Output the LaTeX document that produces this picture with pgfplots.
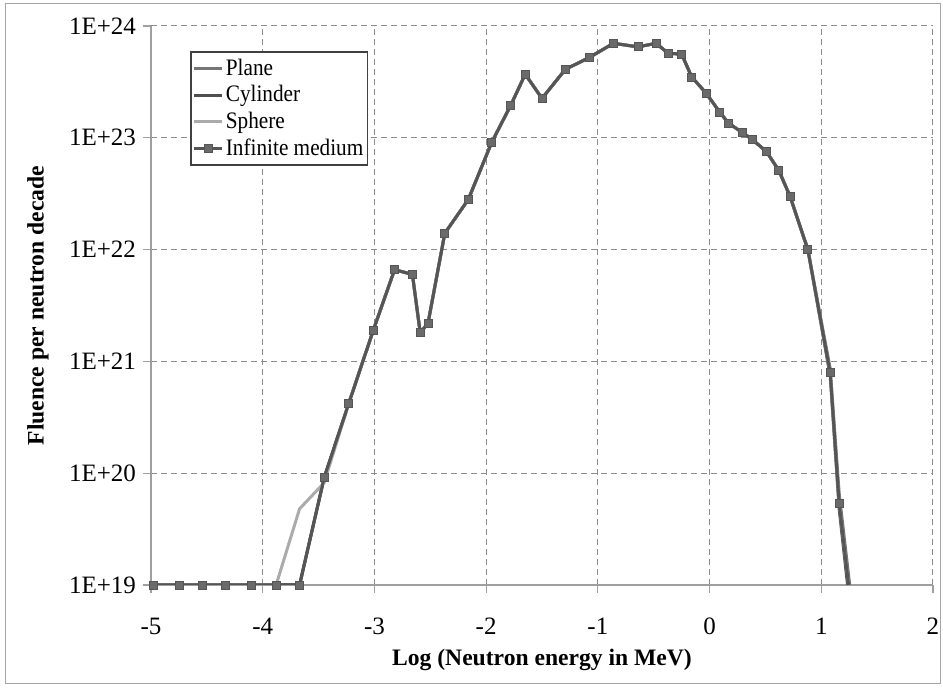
\documentclass[border=0pt]{standalone}
\usepackage{fontspec}
\setmainfont{Liberation Serif}
\newfontfamily\legendfont[FakeStretch=0.9]{Liberation Serif}
\usepackage{pgfplots}
\pgfplotsset{compat=1.18}

\definecolor{planec}{HTML}{767676}
\definecolor{cylc}{HTML}{4E4E4E}
\definecolor{spherec}{HTML}{ABABAB}
\definecolor{infc}{HTML}{555555}
\definecolor{markc}{HTML}{6A6A6A}
\definecolor{gridc}{HTML}{8C8C8C}

% Fluence per neutron decade against log10(E / MeV)
\pgfplotstableread{
x      y
-4.98  1e19
-4.75  1e19
-4.54  1e19
-4.33  1e19
-4.10  1e19
-3.88  1e19
-3.67  1e19
-3.45  9.1e19
-3.23  4.2e20
-3.01  1.9e21
-2.82  6.6e21
-2.66  6.0e21
-2.59  1.8e21
-2.52  2.2e21
-2.37  1.4e22
-2.16  2.8e22
-1.95  9.1e22
-1.78  1.95e23
-1.65  3.7e23
-1.50  2.25e23
-1.29  4.1e23
-1.08  5.2e23
-0.86  7.0e23
-0.64  6.5e23
-0.48  7.0e23
-0.37  5.7e23
-0.25  5.6e23
-0.16  3.5e23
-0.03  2.5e23
0.09   1.7e23
0.17   1.35e23
0.29   1.12e23
0.38   9.7e22
0.51   7.5e22
0.62   5.1e22
0.72   3.0e22
0.88   1.0e22
1.08   7.9e20
1.16   5.4e19
1.27   6e18
}\infmedium

\pgfplotstableread{
x      y
-4.98  1e19
-3.67  1e19
-3.45  9.1e19
-3.23  4.2e20
-3.01  1.9e21
-2.82  6.6e21
-2.66  6.0e21
-2.59  1.8e21
-2.52  2.2e21
-2.37  1.4e22
-2.16  2.8e22
-1.95  9.1e22
-1.78  1.95e23
-1.65  3.7e23
-1.50  2.25e23
-1.29  4.1e23
-1.08  5.2e23
-0.86  7.0e23
-0.64  6.5e23
-0.48  7.0e23
-0.37  5.7e23
-0.25  5.6e23
-0.16  3.5e23
-0.03  2.5e23
0.09   1.7e23
0.17   1.35e23
0.29   1.12e23
0.38   9.7e22
0.51   7.5e22
0.62   5.1e22
0.72   3.0e22
0.88   1.0e22
1.08   8.6e20
1.16   6.6e19
1.28   6e18
}\plane

\pgfplotstableread{
x      y
-4.98  1e19
-3.67  1e19
-3.45  9.1e19
-3.23  4.2e20
-3.01  1.9e21
-2.82  6.6e21
-2.66  6.0e21
-2.59  1.8e21
-2.52  2.2e21
-2.37  1.4e22
-2.16  2.8e22
-1.95  9.1e22
-1.78  1.95e23
-1.65  3.7e23
-1.50  2.25e23
-1.29  4.1e23
-1.08  5.2e23
-0.86  7.0e23
-0.64  6.5e23
-0.48  7.0e23
-0.37  5.7e23
-0.25  5.6e23
-0.16  3.5e23
-0.03  2.5e23
0.09   1.7e23
0.17   1.35e23
0.29   1.12e23
0.38   9.7e22
0.51   7.5e22
0.62   5.1e22
0.72   3.0e22
0.88   1.0e22
1.08   7.4e20
1.16   4.8e19
1.26   6e18
}\cylinder

\pgfplotstableread{
x      y
-4.98  1e19
-3.88  1e19
-3.67  4.8e19
-3.45  8.2e19
-3.23  4.2e20
-3.01  1.9e21
-2.82  6.6e21
-2.66  6.0e21
-2.59  1.8e21
-2.52  2.2e21
-2.37  1.4e22
-2.16  2.8e22
-1.95  9.1e22
-1.78  1.95e23
-1.65  3.7e23
-1.50  2.25e23
-1.29  4.1e23
-1.08  5.2e23
-0.86  7.0e23
-0.64  6.5e23
-0.48  7.0e23
-0.37  5.7e23
-0.25  5.6e23
-0.16  3.5e23
-0.03  2.5e23
0.09   1.7e23
0.17   1.35e23
0.29   1.12e23
0.38   9.7e22
0.51   7.5e22
0.62   5.1e22
0.72   3.0e22
0.88   1.0e22
1.08   7.9e20
1.16   5.4e19
1.27   6e18
}\sphere

\begin{document}
\begin{tikzpicture}[x=1pt,y=1pt]
% page extent and outer chart frame
\useasboundingbox (-75.5,-51) rectangle (396,292.5);
\draw[draw=gray!70, line width=0.5pt] (-72.5,-49) rectangle (394.5,290.5);
\begin{axis}[
  scale only axis,
  width=391pt, height=279.5pt,
  at={(0,0)}, anchor=south west,
  xmin=-5, xmax=2,
  ymode=log, ymin=1e19, ymax=1e24,
  xtick={-5,-4,-3,-2,-1,0,1,2},
  xticklabels={-5,-4,-3,-2,-1,0,1,2},
  ytick={1e19,1e20,1e21,1e22,1e23,1e24},
  yticklabels={1E+19,1E+20,1E+21,1E+22,1E+23,1E+24},
  yminorticks=false,
  axis x line*=bottom, axis y line*=left,
  axis line style={draw=gray!75, line width=0.6pt},
  tick align=outside,
  major tick length=4pt,
  tick style={draw=gray!75, line width=0.6pt},
  grid=major,
  major grid style={draw=gridc, line width=0.5pt, dash pattern=on 3pt off 2pt},
  ticklabel style={font=\fontsize{12.5}{14}\selectfont, text=black},
  xticklabel style={yshift=-9pt},
  xlabel={Log (Neutron energy in MeV)},
  ylabel={Fluence per neutron decade},
  label style={font=\bfseries\fontsize{11.8}{14}\selectfont},
  xlabel style={at={(axis description cs:0.5,-0.134)}, anchor=center},
  ylabel style={at={(axis description cs:-0.1445,0.5)}, anchor=center},
  legend style={at={(0.05,0.955)}, anchor=north west,
    draw=black!75, line width=0.8pt, fill=white,
    font=\legendfont\fontsize{11.8}{13}\selectfont,
    inner xsep=1pt, inner ysep=1.5pt, row sep=-0.4pt,
    nodes={inner xsep=1pt}},
  legend cell align=left,
  legend image code/.code={%
    \draw[mark repeat=2, mark phase=2, #1]
      plot coordinates {(0pt,0pt) (7pt,0pt) (14pt,0pt)};},
  clip mode=global,
]
\addplot[planec, line width=1.5pt, no marks] table[x=x,y=y] {\plane};
\addlegendentry{Plane}
\addplot[cylc, line width=1.5pt, no marks] table[x=x,y=y] {\cylinder};
\addlegendentry{Cylinder}
\addplot[spherec, line width=1.5pt, no marks] table[x=x,y=y] {\sphere};
\addlegendentry{Sphere}
\addplot[infc, line width=1.5pt, mark=square*, mark size=2pt,
  mark options={fill=markc, draw=infc, line width=0.4pt}] table[x=x,y=y] {\infmedium};
\addlegendentry{Infinite medium}
\end{axis}
\end{tikzpicture}
\end{document}
